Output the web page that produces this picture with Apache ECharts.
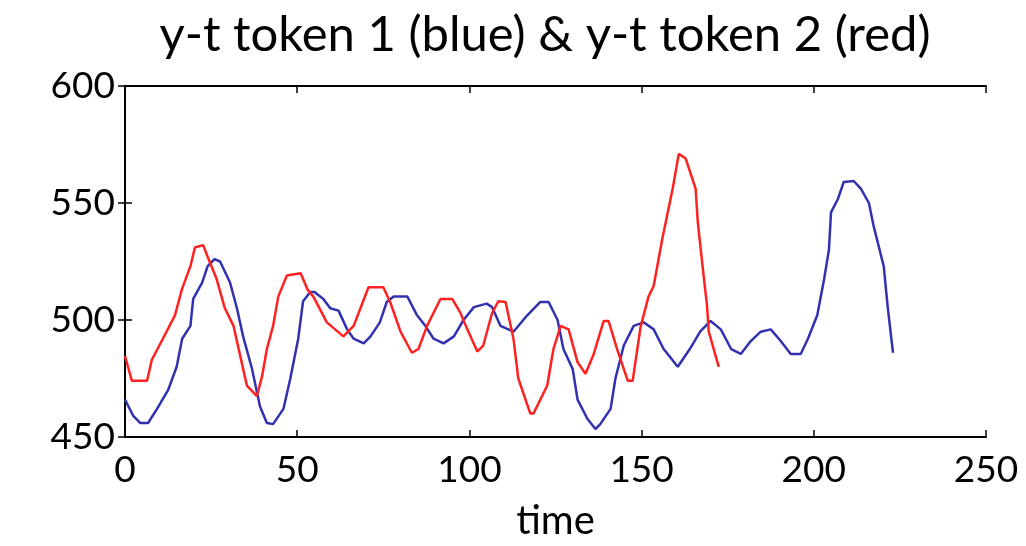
<!DOCTYPE html>
<html>
<head>
<meta charset="utf-8">
<script src="https://cdn.jsdelivr.net/npm/echarts@6/dist/echarts.min.js"></script>
<style>
html,body{margin:0;padding:0;background:#fff;}
#c{width:1026px;height:546px;}
</style>
</head>
<body>
<div id="c"></div>
<script>
// Data
const titleText = 'y-t token 1 (blue) & y-t token 2 (red)';
const xTicks = [0, 50, 100, 150, 200, 250];
const yTicks = [450, 500, 550, 600];

const blueT = [0, 2.4, 4.4, 6.7, 9.3, 12.5, 15, 16.6, 19, 19.8, 22.4, 24, 26, 27.6, 30.5, 32.5, 34.3, 36.9, 39.2, 41.2, 43, 46, 48, 50.3, 51.7, 53.8, 55, 57.6, 59.6, 62, 64.5, 66.4, 69.3, 71.3, 74, 76, 78, 82, 84.8, 87.2, 89.6, 92.5, 95.5, 98.3, 101.3, 105, 106.6, 109, 112.8, 116.8, 120.6, 123, 125.6, 127.3, 130, 131.4, 134.3, 136.6, 138, 141, 142.4, 144.8, 147.7, 150.6, 153.5, 156.4, 160.5, 164, 167, 170, 173, 176, 178.8, 181.7, 184.6, 187.5, 190.4, 193.3, 196.2, 198.3, 201, 203, 204.4, 205, 207, 208.7, 211.6, 213.7, 216, 217.4, 220.3, 221.5, 223];
const blueY = [466, 459, 456, 456, 462, 470, 480, 492, 497.5, 509, 516, 523, 526, 525, 516, 505, 493, 479, 463, 456, 455.5, 462, 475, 492, 508, 512, 512, 509, 505, 504, 496, 492, 490, 493, 499, 507.7, 510, 510, 502, 497.5, 492, 490, 493, 500, 505.5, 507, 505.5, 497.5, 495, 502, 507.7, 507.7, 500, 487.6, 479, 466, 457.7, 453.4, 455.5, 462, 475, 489, 497.5, 499, 496, 487.6, 480, 487.6, 495, 499.6, 496, 487.6, 485.5, 491, 495, 496, 491, 485.5, 485.5, 492, 502, 517.5, 530, 546, 551.7, 559, 559.4, 556, 550, 540, 523, 505, 486];

const redT = [0, 2, 6.4, 7.8, 11, 14.5, 16.5, 19, 20.3, 22.7, 24, 26.6, 29, 31.5, 33.4, 35.4, 38.3, 39.8, 41.2, 43, 44.5, 47, 51, 53, 54.7, 58.6, 63.4, 66.4, 70.7, 75, 77, 80, 83.3, 85.2, 87.7, 91.6, 95, 97.4, 99.4, 102.3, 104, 106.6, 108.4, 110.5, 112.8, 114.2, 117.7, 118.6, 122.6, 124.4, 126.5, 128.8, 131.4, 133.7, 136, 139, 140.4, 143, 146, 147.4, 149.7, 152, 153.5, 156, 159, 160.8, 162.8, 165.7, 166.3, 167.7, 169, 169.5, 172.4];
const redY = [484.6, 474, 474, 483, 492, 502, 513, 523, 531, 532, 527, 517.5, 505, 497.5, 485, 472, 467.5, 476, 487.6, 497.5, 510, 519, 520, 513, 510, 499, 493, 497.5, 514, 514, 507.7, 495, 486, 487.6, 497.5, 509, 509, 503, 496, 486.5, 489, 503, 508, 507.7, 492, 475, 460, 460, 472, 487.6, 497.5, 496, 482, 477, 485, 499.6, 499.6, 487, 474, 474, 497, 510, 514.5, 534.6, 556, 571, 569, 556, 542, 523, 506, 495, 480];

const blueData = blueT.map((t, i) => [t, blueY[i]]);
const redData = redT.map((t, i) => [t, redY[i]]);

const FONT = 'Lato';
const chart = echarts.init(document.getElementById('c'), null, {renderer: 'canvas'});

const axisLineStyle = {color: '#000', width: 2};
const tickStyle = {inside: true, length: 7, lineStyle: {color: '#000', width: 1.5}};

chart.setOption({
  backgroundColor: '#fff',
  animation: false,
  title: {
    text: titleText,
    left: 540,
    top: 6,
    textAlign: 'center',
    textStyle: {fontFamily: FONT, fontSize: 49, fontWeight: 'normal', color: '#000'}
  },
  grid: {left: 125, right: 40, top: 86, bottom: 106, containLabel: false},
  xAxis: [
    {
      type: 'value', min: xTicks[0], max: xTicks[xTicks.length - 1], interval: 50,
      position: 'bottom',
      name: 'time', nameLocation: 'middle', nameGap: 64,
      nameTextStyle: {fontFamily: FONT, fontSize: 40, color: '#000'},
      axisLine: {show: true, lineStyle: axisLineStyle},
      axisTick: tickStyle,
      axisLabel: {fontFamily: FONT, fontSize: 37, color: '#000', margin: 15},
      splitLine: {show: false}
    },
    {
      type: 'value', min: xTicks[0], max: xTicks[xTicks.length - 1], interval: 50,
      position: 'top',
      axisLine: {show: true, lineStyle: axisLineStyle},
      axisTick: tickStyle,
      axisLabel: {show: false},
      splitLine: {show: false}
    }
  ],
  yAxis: [
    {
      type: 'value', min: yTicks[0], max: yTicks[yTicks.length - 1], interval: 50,
      position: 'left',
      axisLine: {show: true, lineStyle: axisLineStyle},
      axisTick: tickStyle,
      axisLabel: {fontFamily: FONT, fontSize: 37, color: '#000', margin: 10},
      splitLine: {show: false}
    },
    {
      type: 'value', min: yTicks[0], max: yTicks[yTicks.length - 1], interval: 50,
      position: 'right',
      axisLine: {show: true, lineStyle: axisLineStyle},
      axisTick: tickStyle,
      axisLabel: {show: false},
      splitLine: {show: false}
    }
  ],
  series: [
    {
      name: 'token 1', type: 'line', data: blueData, xAxisIndex: 0, yAxisIndex: 0,
      showSymbol: false, symbol: 'none',
      lineStyle: {color: '#3232b0', width: 2.5}
    },
    {
      name: 'token 2', type: 'line', data: redData, xAxisIndex: 0, yAxisIndex: 0,
      showSymbol: false, symbol: 'none',
      lineStyle: {color: '#ff2020', width: 2.5}
    }
  ]
});
</script>
</body>
</html>
